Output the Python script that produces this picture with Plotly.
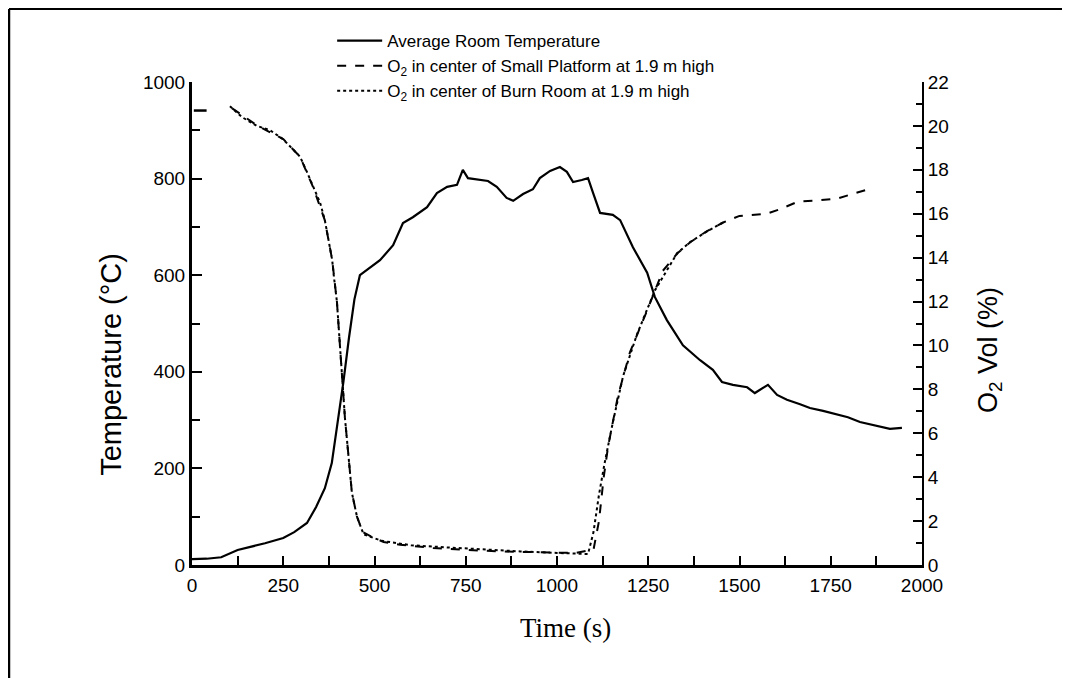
import plotly.graph_objects as go

# ---- data ----
temp_t = [0, 40, 80, 125, 200, 250, 280, 315, 340, 364, 383, 400, 415, 430, 445, 460, 479, 515, 551, 578,
          605, 644, 671, 699, 726, 742, 756, 789, 811, 835, 862, 880, 907, 934, 953, 981, 1008, 1027, 1044,
          1068, 1085, 1099, 1118, 1153, 1173, 1208, 1247, 1268, 1301, 1345, 1392, 1427, 1452, 1482, 1521,
          1542, 1562, 1578, 1603, 1630, 1666, 1693, 1729, 1767, 1797, 1830, 1866, 1912, 1945]
temp_v = [12, 13, 16, 31, 45, 56, 68, 87, 120, 159, 211, 300, 380, 470, 550, 600, 611, 631, 662, 708,
          720, 741, 770, 783, 787, 818, 801, 797, 795, 783, 760, 754, 768, 778, 801, 816, 824, 814, 793,
          797, 801, 770, 729, 725, 714, 658, 605, 555, 507, 455, 424, 404, 379, 373, 368,
          356, 366, 373, 352, 342, 333, 325, 319, 311, 306, 296, 290, 282, 284]

# Small Platform O2: short early reading, a gap, then the main record
platform_start_t = [5, 40]
platform_start_v = [20.7, 20.7]
platform_t = [110, 180, 250, 296, 332, 364, 384, 397, 419, 438, 452, 468, 490, 525, 570, 660,
              750, 840, 950, 1050, 1100, 1115, 1128, 1140, 1167, 1200, 1247, 1290, 1330, 1365, 1410, 1455,
              1500, 1575, 1610, 1660, 1710, 1770, 1810, 1850]
platform_v = [20.8, 20.0, 19.4, 18.6, 17.2, 15.7, 13.9, 12.0, 6.7, 3.3, 2.2, 1.5, 1.3, 1.05,
              0.92, 0.78, 0.69, 0.62, 0.58, 0.55, 0.7, 2.0, 4.0, 5.4, 7.7, 9.7, 11.6, 13.4, 14.2, 14.7, 15.2,
              15.6, 15.9, 16.0, 16.2, 16.55, 16.6, 16.7, 16.9, 17.1]

burn_t = [104, 137, 178, 214, 249, 277, 296, 315, 332, 351, 364, 373, 384, 389, 397, 419, 428, 438, 452,
          470, 520, 600, 700, 800, 900, 1000, 1060, 1085, 1100, 1115, 1130, 1153, 1181, 1219, 1268, 1329,
          1364, 1411, 1455]
burn_v = [20.9, 20.4, 20.0, 19.8, 19.4, 18.9, 18.6, 17.9, 17.2, 16.5, 15.7, 14.9, 13.9, 13.1, 12.0, 6.7,
          5.1, 3.3, 2.2, 1.4, 1.1, 0.9, 0.8, 0.7, 0.62, 0.55, 0.5, 0.5, 1.5, 3.2, 4.6, 6.5, 8.6, 10.5, 12.5,
          14.2, 14.7, 15.2, 15.6]

x_ticks = [0, 250, 500, 750, 1000, 1250, 1500, 1750, 2000]
temp_ticks = [0, 200, 400, 600, 800, 1000]
o2_ticks = [0, 2, 4, 6, 8, 10, 12, 14, 16, 18, 20, 22]

legend_names = ["Average Room Temperature",
                "O<sub>2</sub> in center of Small Platform at 1.9 m high",
                "O<sub>2</sub> in center of Burn Room at 1.9 m high"]

fig = go.Figure()
fig.add_trace(go.Scatter(x=temp_t, y=temp_v, mode="lines", name=legend_names[0],
                         line=dict(color="black", width=2.2), yaxis="y"))
fig.add_trace(go.Scatter(x=platform_t, y=platform_v, mode="lines", name=legend_names[1],
                         legendgroup="plat",
                         line=dict(color="black", width=2, dash="dash"), yaxis="y2"))
fig.add_trace(go.Scatter(x=burn_t, y=burn_v, mode="lines", name=legend_names[2],
                         line=dict(color="black", width=2, dash="dot"), yaxis="y2"))
fig.add_trace(go.Scatter(x=platform_start_t, y=platform_start_v, mode="lines", name=legend_names[1],
                         legendgroup="plat", showlegend=False,
                         line=dict(color="black", width=2.5), yaxis="y2"))

tickfont = dict(family="Liberation Sans, Arial, sans-serif", size=19, color="black")

# page body has an 8px margin, so the figure is shifted by 8px
fig.update_layout(
    width=1062, height=670,
    margin=dict(l=184, r=148, t=74, b=113),
    paper_bgcolor="white", plot_bgcolor="white",
    showlegend=True,
    legend=dict(x=0.192, y=1.122, xanchor="left", yanchor="top", bgcolor="rgba(0,0,0,0)",
                font=dict(family="Liberation Sans, Arial, sans-serif", size=17, color="black"),
                itemwidth=45, tracegroupgap=0, traceorder="normal"),
    xaxis=dict(range=[0, 2000], tickvals=x_ticks, ticks="inside", ticklen=9, tickwidth=2, tickcolor="black",
               minor=dict(dtick=125, tick0=0, ticks="inside", ticklen=9, tickwidth=2, tickcolor="black"),
               showline=True, linecolor="black", linewidth=3, showgrid=False, zeroline=False,
               tickfont=tickfont, ticklabelstandoff=1),
    yaxis=dict(range=[0, 1000], tickvals=temp_ticks, ticks="inside", ticklen=10, tickwidth=2, tickcolor="black",
               minor=dict(dtick=100, tick0=0, ticks="inside", ticklen=8, tickwidth=2, tickcolor="black"),
               showline=True, linecolor="black", linewidth=3, showgrid=False, zeroline=False,
               tickfont=tickfont),
    yaxis2=dict(range=[0, 22], tickvals=o2_ticks, overlaying="y", side="right", anchor="x",
                ticks="inside", ticklen=9, tickwidth=2, tickcolor="black",
                minor=dict(dtick=1, tick0=0, ticks="inside", ticklen=6, tickwidth=2, tickcolor="black"),
                showline=True, linecolor="black", linewidth=2, showgrid=False, zeroline=False,
                tickfont=tickfont),
)

# axis titles
fig.add_annotation(text="Temperature (°C)", xref="paper", yref="paper", x=-0.112, y=0.415,
                   textangle=-90, showarrow=False, xanchor="center", yanchor="middle",
                   font=dict(family="Liberation Sans, Arial, sans-serif", size=29, color="black"))
fig.add_annotation(text="Time (s)", xref="paper", yref="paper", x=0.512, y=-0.13,
                   showarrow=False, xanchor="center", yanchor="middle",
                   font=dict(family="Liberation Serif, Times New Roman, serif", size=27, color="black"))
fig.add_annotation(text="O<sub>2</sub> Vol (%)", xref="paper", yref="paper", x=1.093, y=0.445,
                   textangle=-90, showarrow=False, xanchor="center", yanchor="middle",
                   font=dict(family="Liberation Sans, Arial, sans-serif", size=27, color="black"))

# outer frame (left and top edges)
fig.add_shape(type="line", xref="paper", yref="paper", x0=-0.2507, x1=1.21, y0=1.151, y1=1.151,
              line=dict(color="black", width=2))
fig.add_shape(type="line", xref="paper", yref="paper", x0=-0.2507, x1=-0.2507, y0=1.151, y1=-0.24,
              line=dict(color="black", width=2.5))

fig.write_html("out.html")
